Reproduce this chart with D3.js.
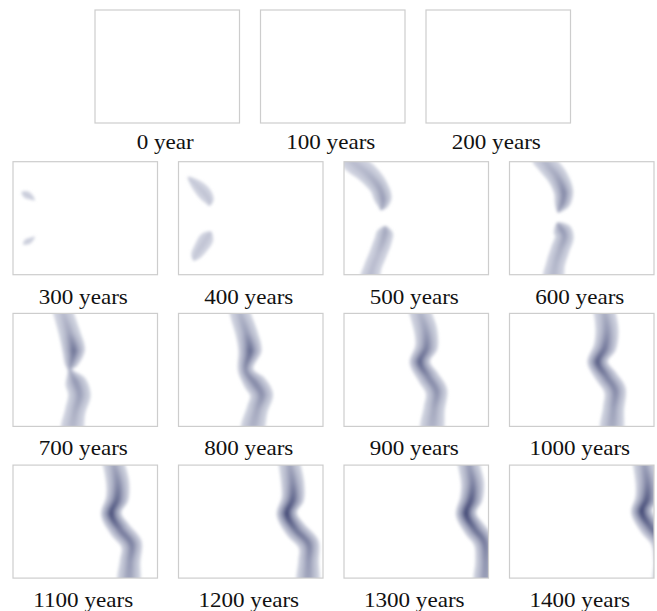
<!DOCTYPE html>
<meta charset="utf-8">
<style>
body { margin: 0; background: #fff; }
.frame { fill: none; stroke: #cdcdcd; stroke-width: 1.2; }
.label { font: 21px "Liberation Serif", "Times New Roman", serif; fill: #111; }
</style>
<svg width="657" height="611"></svg>
<script src="https://d3js.org/d3.v7.min.js"></script>
<script>
// panel captions
const labels = ["0 year", "100 years", "200 years",
  "300 years", "400 years", "500 years", "600 years",
  "700 years", "800 years", "900 years", "1000 years",
  "1100 years", "1200 years", "1300 years", "1400 years"];

// centre lines of the shaded bands: [x, y, half width, darkness], x/y as fraction of panel
const b300a = [[0.06,0.27,0,0.1],[0.09,0.29,0.024,0.1],[0.125,0.315,0.018,0.1],[0.15,0.34,0,0.1]];
const b300b = [[0.07,0.73,0,0.1],[0.095,0.71,0.02,0.1],[0.125,0.69,0.016,0.1],[0.15,0.665,0,0.1]];
const b400a = [[0.065,0.135,0,0.12],[0.12,0.2,0.035,0.12],[0.18,0.28,0.045,0.15],[0.215,0.35,0.03,0.15],[0.215,0.39,0,0.15]];
const b400b = [[0.225,0.62,0,0.15],[0.2,0.67,0.045,0.15],[0.155,0.76,0.045,0.15],[0.115,0.84,0.03,0.12],[0.105,0.875,0,0.12]];
const b500a = [[0.03,-0.06,0.075,0.2],[0.08,0.02,0.072,0.2],[0.16,0.1,0.068,0.25],[0.24,0.22,0.062,0.35],[0.27,0.33,0.058,0.42],[0.265,0.4,0.03,0.35],[0.255,0.43,0,0.3]];
const b500b = [[0.285,0.57,0,0.3],[0.285,0.62,0.052,0.35],[0.27,0.7,0.058,0.3],[0.235,0.82,0.058,0.2],[0.2,0.93,0.058,0.2],[0.175,1.06,0.058,0.2]];
const b600a = [[0.22,-0.06,0.068,0.2],[0.26,0.02,0.068,0.25],[0.33,0.13,0.068,0.35],[0.375,0.27,0.064,0.55],[0.365,0.37,0.052,0.5],[0.345,0.42,0.028,0.4],[0.335,0.45,0,0.35]];
const b600b = [[0.33,0.54,0,0.35],[0.36,0.6,0.058,0.45],[0.38,0.66,0.062,0.4],[0.35,0.78,0.062,0.3],[0.32,0.9,0.062,0.25],[0.3,1.06,0.062,0.2]];
const b700 = [[0.34,-0.06,0.066,0.2],[0.35,0,0.066,0.2],[0.39,0.17,0.07,0.35],[0.42,0.33,0.074,0.7],[0.4,0.46,0.04,0.45],[0.395,0.5,0.018,0.3],[0.43,0.6,0.068,0.45],[0.46,0.72,0.074,0.4],[0.43,0.87,0.068,0.3],[0.405,1.06,0.066,0.2]];
const b800 = [[0.42,-0.06,0.068,0.25],[0.427,0,0.068,0.25],[0.47,0.17,0.072,0.4],[0.495,0.33,0.076,0.75],[0.465,0.5,0.052,0.5],[0.53,0.62,0.072,0.55],[0.575,0.72,0.076,0.5],[0.545,0.85,0.07,0.35],[0.505,1.06,0.068,0.25]];
const b900 = [[0.52,-0.06,0.072,0.25],[0.53,0,0.072,0.25],[0.565,0.15,0.076,0.4],[0.57,0.3,0.074,0.6],[0.525,0.43,0.068,0.8],[0.58,0.56,0.068,0.55],[0.64,0.69,0.072,0.5],[0.625,0.84,0.07,0.35],[0.605,1.06,0.068,0.25]];
const b1000 = [[0.65,-0.06,0.072,0.3],[0.66,0,0.072,0.3],[0.675,0.15,0.076,0.45],[0.66,0.3,0.074,0.65],[0.61,0.43,0.068,0.85],[0.67,0.56,0.068,0.6],[0.73,0.68,0.072,0.55],[0.72,0.84,0.07,0.4],[0.705,1.06,0.068,0.3]];
const b1100 = [[0.69,-0.06,0.072,0.35],[0.7,0,0.072,0.35],[0.725,0.16,0.076,0.55],[0.72,0.3,0.074,0.75],[0.68,0.43,0.068,0.95],[0.74,0.57,0.068,0.65],[0.82,0.7,0.07,0.6],[0.81,0.85,0.068,0.45],[0.8,1.06,0.066,0.35]];
const b1200 = [[0.765,-0.06,0.072,0.35],[0.77,0,0.072,0.35],[0.79,0.16,0.076,0.55],[0.79,0.3,0.074,0.8],[0.75,0.43,0.068,1],[0.81,0.57,0.068,0.7],[0.9,0.7,0.07,0.6],[0.9,0.85,0.068,0.45],[0.895,1.06,0.066,0.35]];
const b1300 = [[0.86,-0.06,0.072,0.4],[0.865,0,0.072,0.4],[0.89,0.16,0.076,0.6],[0.88,0.3,0.074,0.85],[0.845,0.43,0.068,1],[0.9,0.56,0.068,0.75],[0.97,0.68,0.07,0.65],[0.98,0.85,0.068,0.5],[0.975,1.06,0.066,0.4]];
const b1400 = [[0.93,-0.06,0.075,0.4],[0.935,0,0.075,0.4],[0.955,0.16,0.078,0.6],[0.95,0.3,0.076,0.85],[0.915,0.41,0.07,1],[0.97,0.54,0.07,0.75],[1.05,0.67,0.07,0.65],[1.07,0.85,0.068,0.5],[1.07,1.06,0.066,0.4]];

const shapes = [[], [], [], [b300a, b300b], [b400a, b400b], [b500a, b500b], [b600a, b600b],
  [b700], [b800], [b900], [b1000], [b1100], [b1200], [b1300], [b1400]];

var svg = d3.select("svg"),
    pw = 144.5, ph = 113,
    stepX = 165.5, stepY = 151.7;

var x = d3.scaleLinear().domain([0, 1]).range([0, pw]),
    y = d3.scaleLinear().domain([0, 1]).range([0, ph]),
    tone = d3.scaleLinear().domain([0, 1]).range(["#d6d9e4", "#39406f"]).interpolate(d3.interpolateRgb);

// nested layers, lighter and wider outside
var layers = [{wf: 1.05, kf: 0.12}, {wf: 0.75, kf: 0.38}, {wf: 0.45, kf: 0.65}, {wf: 0.22, kf: 0.9}];

var defs = svg.append("defs");
defs.append("filter").attr("id", "soft")
    .attr("x", "-30%").attr("y", "-30%").attr("width", "160%").attr("height", "160%")
  .append("feGaussianBlur").attr("stdDeviation", 1.8);

var outline = d3.line().curve(d3.curveCatmullRomClosed.alpha(0.5));

function bandPolygon(pts, wf) {
  var p = pts.map(function(d) { return [x(d[0]), y(d[1]), x(d[2]) * wf]; });
  var left = [], right = [];
  p.forEach(function(d, i) {
    var a = p[Math.max(0, i - 1)], b = p[Math.min(p.length - 1, i + 1)];
    var tx = b[0] - a[0], ty = b[1] - a[1], l = Math.hypot(tx, ty) || 1;
    var nx = -ty / l, ny = tx / l;
    left.push([d[0] + nx * d[2], d[1] + ny * d[2]]);
    if (d[2] > 0) right.push([d[0] - nx * d[2], d[1] - ny * d[2]]);
  });
  return left.concat(right.reverse());
}

labels.forEach(function(label, i) {
  var row = i < 3 ? 0 : 1 + Math.floor((i - 3) / 4),
      col = i < 3 ? i : (i - 3) % 4,
      px = (i < 3 ? 95 : 13) + col * stepX,
      py = 10 + row * stepY;

  var g = svg.append("g").attr("transform", "translate(" + px + "," + py + ")");

  defs.append("clipPath").attr("id", "clip" + i)
    .append("rect").attr("width", pw).attr("height", ph);

  var inner = g.append("g").attr("clip-path", "url(#clip" + i + ")")
    .append("g").attr("filter", "url(#soft)");

  shapes[i].forEach(function(pts, j) {
    layers.forEach(function(layer, k) {
      var id = "grad" + i + "_" + j + "_" + k;
      defs.append("linearGradient").attr("id", id)
          .attr("gradientUnits", "userSpaceOnUse")
          .attr("x1", 0).attr("x2", 0).attr("y1", y(-0.1)).attr("y2", y(1.1))
        .selectAll("stop")
        .data(pts)
        .enter().append("stop")
          .attr("offset", function(d) { return (d[1] + 0.1) / 1.2; })
          .attr("stop-color", function(d) { return tone(d[3] * layer.kf); });

      inner.append("path")
          .attr("d", outline(bandPolygon(pts, layer.wf)))
          .attr("fill", "url(#" + id + ")");
    });
  });

  g.append("rect").attr("class", "frame").attr("width", pw).attr("height", ph);

  g.append("text")
      .attr("class", "label")
      .attr("text-anchor", "middle")
      .attr("transform", "translate(" + (pw / 2 - 2) + "," + (ph + (row == 0 ? 26 : 29)) + ") scale(1.1,1)")
      .text(label);
});
</script>
